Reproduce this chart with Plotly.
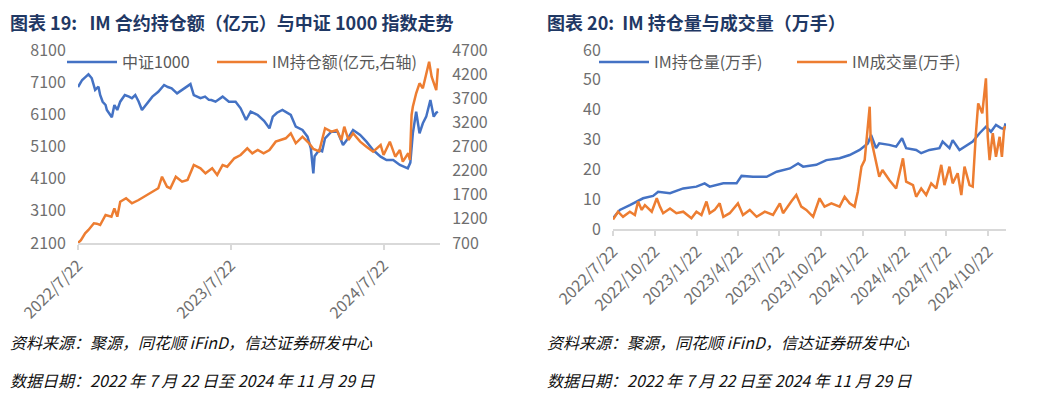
import plotly.graph_objects as go

W, H = 1042, 400

# ---------------- data: left chart ----------------
csi_dates = ["2022-07-22", "2022-07-27", "2022-08-01", "2022-08-08", "2022-08-16", "2022-08-24",
             "2022-09-01", "2022-09-09", "2022-09-13", "2022-09-19", "2022-09-26", "2022-09-29",
             "2022-10-11", "2022-10-17", "2022-10-24", "2022-10-31", "2022-11-11", "2022-11-21",
             "2022-11-28", "2022-12-06", "2022-12-14", "2022-12-22", "2023-01-06", "2023-01-16",
             "2023-01-30", "2023-02-13", "2023-02-22", "2023-03-03", "2023-03-16", "2023-03-28",
             "2023-04-10", "2023-04-17", "2023-04-25", "2023-05-11", "2023-05-22", "2023-05-31",
             "2023-06-06", "2023-06-16", "2023-07-03", "2023-07-18", "2023-08-03", "2023-08-15",
             "2023-08-28", "2023-09-08", "2023-09-25", "2023-10-10", "2023-10-23", "2023-10-31",
             "2023-11-10", "2023-11-23", "2023-12-13", "2023-12-25", "2024-01-10", "2024-01-22",
             "2024-01-30", "2024-02-05", "2024-02-08", "2024-02-19", "2024-02-26", "2024-03-04",
             "2024-03-19", "2024-04-03", "2024-04-16", "2024-04-25", "2024-05-10", "2024-05-27",
             "2024-06-11", "2024-06-27", "2024-07-15", "2024-07-29", "2024-08-14", "2024-08-30",
             "2024-09-18", "2024-09-24", "2024-09-30", "2024-10-08", "2024-10-16", "2024-10-24",
             "2024-11-01", "2024-11-11", "2024-11-19", "2024-11-25", "2024-11-29"]
csi_vals = [6950, 7080, 7168, 7250, 7345, 7220,
            6857, 6960, 6700, 6490, 6390, 6235,
            6008, 6390, 6235, 6493, 6700, 6650,
            6600, 6700, 6500, 6235, 6493, 6650,
            6800, 7012, 6950, 6910, 6754, 6857,
            6980, 7040, 6700, 6600, 6650, 6550,
            6546, 6493, 6650, 6493, 6493, 6288,
            5924, 6182, 6080, 5900, 5666, 6027,
            6150, 6235, 6080, 5716, 5613, 5405,
            5044, 4267, 4800, 4991, 4950, 5355,
            5561, 5561, 5147, 5300, 5613, 5458,
            5250, 4991, 4784, 4680, 4680, 4525,
            4422, 4600, 5510, 6182, 5510, 5822,
            6027, 6546, 6027, 6150, 6182]

oi_amt_dates = ["2022-07-22", "2022-07-29", "2022-08-08", "2022-08-16", "2022-08-29", "2022-09-05",
                "2022-09-13", "2022-09-26", "2022-10-10", "2022-10-17", "2022-10-24", "2022-10-31",
                "2022-11-14", "2022-11-28", "2022-12-14", "2023-01-03", "2023-01-30", "2023-02-08",
                "2023-02-20", "2023-02-28", "2023-03-13", "2023-03-28", "2023-04-10", "2023-04-25",
                "2023-05-11", "2023-05-23", "2023-06-08", "2023-06-20", "2023-07-03", "2023-07-14",
                "2023-07-31", "2023-08-15", "2023-08-31", "2023-09-12", "2023-09-25", "2023-10-09",
                "2023-10-23", "2023-11-07", "2023-12-01", "2023-12-13", "2023-12-25", "2024-01-10",
                "2024-01-26", "2024-02-05", "2024-02-19", "2024-03-04", "2024-03-19", "2024-04-01",
                "2024-04-12", "2024-04-19", "2024-04-29", "2024-05-10", "2024-05-27", "2024-06-11",
                "2024-06-27", "2024-07-15", "2024-07-22", "2024-08-06", "2024-08-19", "2024-08-30",
                "2024-09-06", "2024-09-19", "2024-09-23", "2024-09-27", "2024-09-30", "2024-10-08",
                "2024-10-16", "2024-10-24", "2024-11-01", "2024-11-08", "2024-11-14", "2024-11-25",
                "2024-11-29"]
oi_amt_vals = [700, 760, 900, 970, 1108, 1100,
               1073, 1280, 1245, 1419, 1245, 1556,
               1627, 1523, 1591, 1695, 1834, 2074,
               1867, 1834, 2074, 1971, 2006, 2317,
               2248, 2145, 2248, 2110, 2317, 2282,
               2456, 2524, 2663, 2559, 2628, 2560,
               2628, 2800, 2870, 2974, 2767, 2904,
               2767, 2650, 2600, 3078, 3007, 3042,
               2835, 3111, 2835, 2974, 2800, 2697,
               2593, 2731, 2524, 2800, 2489, 2628,
               2386, 2559, 2420, 3353, 3525, 3803,
               4010, 3907, 4217, 4458, 4148, 3870,
               4320]

left_xtick_vals = ["2022-07-22", "2023-07-22", "2024-07-22"]
left_xtick_text = ["2022/7/22", "2023/7/22", "2024/7/22"]
left_ytick_vals = [2100, 3100, 4100, 5100, 6100, 7100, 8100]
right_ytick_vals_l = [700, 1200, 1700, 2200, 2700, 3200, 3700, 4200, 4700]

# ---------------- data: right chart ----------------
oi_dates = ["2022-07-22", "2022-08-06", "2022-08-28", "2022-09-12", "2022-09-26", "2022-10-18",
            "2022-10-29", "2022-11-24", "2022-12-23", "2023-01-21", "2023-02-08", "2023-02-19",
            "2023-03-21", "2023-04-19", "2023-04-30", "2023-05-25", "2023-06-24", "2023-07-16",
            "2023-08-14", "2023-09-01", "2023-09-12", "2023-10-11", "2023-11-02", "2023-12-01",
            "2023-12-23", "2024-01-14", "2024-02-01", "2024-02-08", "2024-02-19", "2024-02-26",
            "2024-03-19", "2024-04-03", "2024-04-16", "2024-04-25", "2024-05-17", "2024-05-28",
            "2024-06-15", "2024-07-07", "2024-07-14", "2024-07-29", "2024-08-05", "2024-08-20",
            "2024-09-07", "2024-09-18", "2024-10-03", "2024-10-17", "2024-10-28", "2024-11-08",
            "2024-11-19", "2024-11-26", "2024-11-29"]
oi_vals = [3.6, 6.4, 8.0, 9.2, 10.3, 11.1,
           12.5, 12.0, 13.6, 14.2, 15.3, 14.2,
           15.3, 15.3, 17.8, 17.5, 17.5, 19.2,
           20.3, 22.0, 20.9, 21.5, 23.1, 23.7,
           24.8, 26.5, 28.7, 31.5, 27.1, 28.7,
           28.2, 27.6, 30.4, 27.1, 26.5, 25.4,
           26.5, 27.1, 29.3, 27.1, 29.8, 26.5,
           28.2, 29.3, 32.1, 34.3, 32.6, 34.9,
           33.8, 33.5, 35.4]

vol_dates = ["2022-07-22", "2022-08-02", "2022-08-13", "2022-08-28", "2022-09-08", "2022-09-15",
             "2022-09-23", "2022-09-30", "2022-10-15", "2022-10-26", "2022-11-02", "2022-11-09",
             "2022-11-24", "2022-12-08", "2022-12-23", "2023-01-10", "2023-01-21", "2023-02-01",
             "2023-02-12", "2023-02-19", "2023-03-02", "2023-03-13", "2023-03-21", "2023-04-04",
             "2023-04-22", "2023-05-03", "2023-05-18", "2023-06-02", "2023-06-20", "2023-07-08",
             "2023-07-23", "2023-07-30", "2023-08-17", "2023-08-28", "2023-09-08", "2023-09-19",
             "2023-10-04", "2023-10-18", "2023-10-29", "2023-11-13", "2023-12-01", "2023-12-12",
             "2023-12-23", "2024-01-03", "2024-01-10", "2024-01-18", "2024-01-25", "2024-01-30",
             "2024-02-05", "2024-02-07", "2024-02-19", "2024-02-26", "2024-03-04", "2024-03-19",
             "2024-04-03", "2024-04-18", "2024-04-25", "2024-05-10", "2024-05-17", "2024-05-28",
             "2024-06-08", "2024-06-19", "2024-06-30", "2024-07-11", "2024-07-18", "2024-07-29",
             "2024-08-05", "2024-08-16", "2024-08-24", "2024-08-31", "2024-09-11", "2024-09-18",
             "2024-09-25", "2024-09-30", "2024-10-09", "2024-10-14", "2024-10-17", "2024-10-21",
             "2024-10-25", "2024-11-01", "2024-11-08", "2024-11-16", "2024-11-21", "2024-11-26",
             "2024-11-29"]
vol_vals = [3.2, 5.8, 4.1, 5.8, 4.7, 9.2,
            6.4, 8.0, 5.8, 10.3, 7.5, 5.3,
            6.9, 5.3, 5.8, 3.6, 5.8, 4.7,
            9.2, 5.3, 6.4, 8.6, 4.1, 5.3,
            8.6, 4.7, 6.4, 4.1, 5.8, 4.7,
            8.6, 5.3, 9.2, 11.4, 7.5, 6.4,
            4.1, 10.3, 7.5, 8.6, 7.5, 10.8,
            8.6, 7.5, 12.5, 20.9, 23.1, 30.9,
            41.0, 30.9, 22.0, 17.5, 19.8, 16.4,
            13.6, 23.7, 15.9, 14.7, 10.8, 13.6,
            11.4, 15.3, 13.6, 21.5, 14.7, 20.9,
            15.3, 18.7, 11.4, 20.9, 14.7, 14.2,
            32.1, 42.1, 38.8, 47.2, 50.5, 30.9,
            23.1, 32.1, 24.2, 30.9, 24.2, 33.8,
            34.5]

right_xtick_vals = ["2022-07-22", "2022-10-22", "2023-01-22", "2023-04-22", "2023-07-22",
                    "2023-10-22", "2024-01-22", "2024-04-22", "2024-07-22", "2024-10-22"]
right_xtick_text = ["2022/7/22", "2022/10/22", "2023/1/22", "2023/4/22", "2023/7/22",
                    "2023/10/22", "2024/1/22", "2024/4/22", "2024/7/22", "2024/10/22"]
right_ytick_vals = [0, 10, 20, 30, 40, 50, 60]

# ---------------- styling ----------------
FONT = "Noto Sans CJK SC"
BLUE = "#4472C4"
ORANGE = "#ED7D31"
TICK_COLOR = "#6F6F6F"
AXIS_LINE = "#D9D9D9"
TITLE_COLOR = "#1F3864"
LW = 2.5


def px(x):
    return x / W


def py(y):
    return 1 - y / H


fig = go.Figure()
fig.add_trace(go.Scatter(x=csi_dates, y=csi_vals, name="中证1000", mode="lines",
                         line=dict(color=BLUE, width=LW), xaxis="x", yaxis="y", legend="legend"))
fig.add_trace(go.Scatter(x=oi_amt_dates, y=oi_amt_vals, name="IM持仓额(亿元,右轴)", mode="lines",
                         line=dict(color=ORANGE, width=LW), xaxis="x", yaxis="y2", legend="legend2"))
fig.add_trace(go.Scatter(x=oi_dates, y=oi_vals, name="IM持仓量(万手)", mode="lines",
                         line=dict(color=BLUE, width=LW), xaxis="x2", yaxis="y3", legend="legend3"))
fig.add_trace(go.Scatter(x=vol_dates, y=vol_vals, name="IM成交量(万手)", mode="lines",
                         line=dict(color=ORANGE, width=LW), xaxis="x2", yaxis="y3", legend="legend4"))

tickfont = dict(family=FONT, size=16, color=TICK_COLOR)

xcommon = dict(type="date", showgrid=False, zeroline=False, showline=True, linecolor=AXIS_LINE,
               linewidth=1.5, ticks="outside", ticklen=5, tickcolor=AXIS_LINE, tickwidth=1.5,
               tickangle=-45, tickfont=tickfont, fixedrange=True, automargin=False)
ycommon = dict(showgrid=False, zeroline=False, showline=False, ticks="outside", ticklen=8,
               tickcolor="rgba(0,0,0,0)", tickfont=tickfont, fixedrange=True, automargin=False)


def leg(x0):
    return dict(orientation="h", x=px(x0), y=py(62), xanchor="left", yanchor="middle",
                font=dict(family=FONT, size=16, color="#595959"), bgcolor="rgba(0,0,0,0)",
                itemwidth=50)


fig.update_layout(
    width=W, height=H,
    margin=dict(l=0, r=0, t=0, b=0, autoexpand=False),
    paper_bgcolor="white", plot_bgcolor="white",
    font=dict(family=FONT, color=TICK_COLOR),
    xaxis=dict(xcommon, domain=[px(78), px(440)], anchor="y",
               range=["2022-07-22", "2024-12-04"],
               tickvals=left_xtick_vals, ticktext=left_xtick_text),
    yaxis=dict(ycommon, domain=[py(243), py(50)], anchor="x", range=[2100, 8100],
               tickvals=left_ytick_vals),
    yaxis2=dict(ycommon, overlaying="y", side="right", anchor="x", range=[700, 4700],
                tickvals=right_ytick_vals_l),
    xaxis2=dict(xcommon, domain=[px(613), px(1006)], anchor="y3",
                range=["2022-07-22", "2024-11-30"],
                tickvals=right_xtick_vals, ticktext=right_xtick_text),
    yaxis3=dict(ycommon, domain=[py(229), py(50)], anchor="x2", range=[0, 60],
                tickvals=right_ytick_vals),
    legend=leg(62), legend2=leg(212), legend3=leg(594), legend4=leg(792),
    showlegend=True,
)

titles = [
    (8, "<b>图表 19:\u00a0\u00a0 IM 合约持仓额（亿元）与中证 1000 指数走势</b>"),
    (545, "<b>图表 20:\u00a0 IM 持仓量与成交量（万手）</b>"),
]
for x0, t in titles:
    fig.add_annotation(text=t, x=px(x0), y=py(22), xref="paper", yref="paper",
                       xanchor="left", yanchor="middle", showarrow=False,
                       font=dict(family=FONT, size=18, color=TITLE_COLOR))

footers = ["<i>资料来源：聚源，同花顺 iFinD，信达证券研发中心</i>",
           "<i>数据日期：2022 年 7 月 22 日至 2024 年 11 月 29 日</i>"]
for x0 in (8, 545):
    for yy, t in zip((342, 380), footers):
        fig.add_annotation(text=t, x=px(x0), y=py(yy), xref="paper", yref="paper",
                           xanchor="left", yanchor="middle", showarrow=False,
                           font=dict(family=FONT, size=16, color="#111111"))

fig.write_html("out.html", config={"displayModeBar": False},
               post_script="document.body.style.margin='0px';")
